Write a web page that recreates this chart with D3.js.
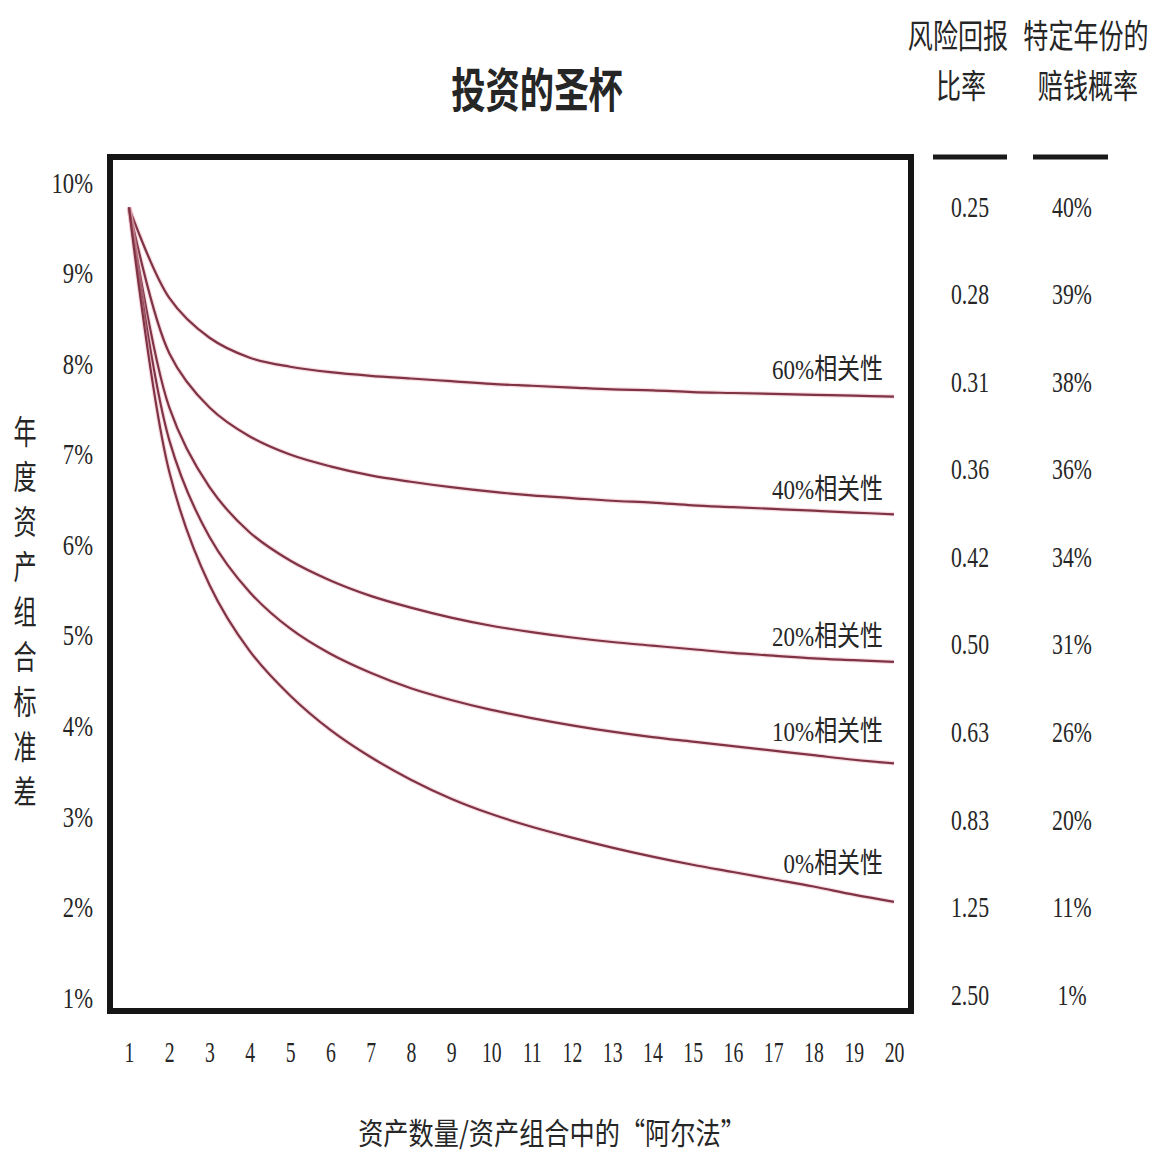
<!DOCTYPE html>
<html>
<head>
<meta charset="utf-8">
<script src="https://cdn.jsdelivr.net/npm/d3@7"></script>
<style>
  html, body { margin: 0; padding: 0; background: #fff; }
  svg { display: block; }
</style>
</head>
<body>
<svg id="chart" width="1161" height="1156"></svg>
<script>
// ---------------- data ----------------
const assetCounts = [1,2,3,4,5,6,7,8,9,10,11,12,13,14,15,16,17,18,19,20];
const yTickValues = [10,9,8,7,6,5,4,3,2,1];

const corr60 = [9.72,8.72,8.28,8.06,7.96,7.90,7.86,7.83,7.80,7.77,7.75,7.73,7.71,7.70,7.68,7.67,7.66,7.65,7.64,7.63];
const corr40 = [9.72,8.11,7.51,7.19,6.99,6.86,6.76,6.69,6.63,6.58,6.54,6.51,6.48,6.46,6.43,6.41,6.39,6.37,6.35,6.33];
const corr20 = [9.72,7.51,6.63,6.13,5.82,5.60,5.43,5.30,5.19,5.10,5.03,4.97,4.92,4.88,4.84,4.80,4.77,4.74,4.72,4.70];
const corr10 = [9.72,7.15,6.08,5.47,5.07,4.79,4.58,4.41,4.28,4.17,4.08,4.00,3.93,3.87,3.82,3.77,3.72,3.67,3.62,3.58];
const corr0  = [9.72,6.80,5.55,4.82,4.33,3.95,3.65,3.40,3.19,3.02,2.88,2.76,2.65,2.55,2.46,2.38,2.30,2.22,2.13,2.05];
const seriesLabels = ["60%相关性","40%相关性","20%相关性","10%相关性","0%相关性"];

const riskReturnRatio = ["0.25","0.28","0.31","0.36","0.42","0.50","0.63","0.83","1.25","2.50"];
const lossProbability = ["40%","39%","38%","36%","34%","31%","26%","20%","11%","1%"];

const titleText = "投资的圣杯";
const yAxisTitle = "年度资产组合标准差";
const xAxisTitle = "资产数量/资产组合中的“阿尔法”";
const colHeader1 = ["风险回报","比率"];
const colHeader2 = ["特定年份的","赔钱概率"];

// ---------------- drawing ----------------
const svg = d3.select("#chart");
const serifFont = "'Liberation Serif', 'Noto Sans CJK SC', serif";
const cjkFont = "'Noto Sans CJK SC', 'Liberation Serif', sans-serif";
const textColor = "#262626";
const lineColor = "#7f3344";

const x = d3.scaleLinear().domain([1, 20]).range([129, 894]);
const y = d3.scaleLinear().domain([1, 10]).range([997, 182]);

// horizontally squeezed text helper
function sText(g, px, py, str, opts) {
  const grp = g.append("g").attr("transform", `translate(${px},${py}) scale(${opts.sx || 1},1)`);
  return grp.append("text")
    .attr("x", 0).attr("y", 0)
    .attr("text-anchor", opts.anchor || "middle")
    .attr("dominant-baseline", "central")
    .attr("font-family", opts.font || serifFont)
    .attr("font-size", opts.size || 28)
    .attr("font-weight", opts.weight || 400)
    .attr("fill", textColor)
    .text(str);
}

// Title
sText(svg, 537, 86, titleText, {font: cjkFont, size: 47, sx: 0.73, weight: 700});

// Column headers
sText(svg, 958, 33, colHeader1[0], {font: cjkFont, size: 33, sx: 0.76});
sText(svg, 961, 83, colHeader1[1], {font: cjkFont, size: 33, sx: 0.76});
sText(svg, 1086, 33, colHeader2[0], {font: cjkFont, size: 33, sx: 0.76});
sText(svg, 1088, 83, colHeader2[1], {font: cjkFont, size: 33, sx: 0.76});

// Header rules
svg.append("line").attr("x1", 933).attr("x2", 1007).attr("y1", 157).attr("y2", 157)
  .attr("stroke", "#1a1a1a").attr("stroke-width", 5);
svg.append("line").attr("x1", 1033).attr("x2", 1108).attr("y1", 157).attr("y2", 157)
  .attr("stroke", "#1a1a1a").attr("stroke-width", 5);

// Table rows
const rowY = d3.scalePoint().domain(d3.range(riskReturnRatio.length)).range([207, 995]);
const tableG = svg.append("g");
riskReturnRatio.forEach((v, i) => sText(tableG, 970, rowY(i), v, {size: 29, sx: 0.75}));
lossProbability.forEach((v, i) => sText(tableG, 1072, rowY(i), v, {size: 29, sx: 0.75}));

// Y axis tick labels
const yAxisG = svg.append("g").attr("transform", "translate(93,0)");
yAxisG.call(d3.axisLeft(y).tickValues(yTickValues).tickSize(0).tickPadding(0).tickFormat(d => d + "%"));
yAxisG.select(".domain").remove();
yAxisG.selectAll(".tick text")
  .attr("font-family", serifFont).attr("font-size", 29).attr("fill", textColor)
  .attr("dy", "0.35em")
  .attr("transform", "scale(0.78,1)");

// X axis tick labels
const xAxisG = svg.append("g").attr("transform", "translate(0,1041)");
xAxisG.call(d3.axisBottom(x).tickValues(assetCounts).tickSize(0).tickPadding(0).tickFormat(d => d));
xAxisG.select(".domain").remove();
xAxisG.selectAll(".tick text")
  .attr("font-family", serifFont).attr("font-size", 29).attr("fill", textColor)
  .attr("dy", "0.71em")
  .attr("transform", "scale(0.68,1)");

// Axis titles
const ylab = svg.append("g").attr("transform", "translate(25,617) scale(0.7,1)");
ylab.append("text")
  .attr("x", 0).attr("y", 0)
  .attr("text-anchor", "middle")
  .style("writing-mode", "vertical-rl")
  .attr("font-family", cjkFont).attr("font-size", 33)
  .attr("letter-spacing", 12)
  .attr("fill", textColor)
  .text(yAxisTitle);

sText(svg, 552, 1131, xAxisTitle, {font: cjkFont, size: 30, sx: 0.84});

// Curves
const allSeries = [corr60, corr40, corr20, corr10, corr0];
const line = d3.line()
  .x((d, i) => x(assetCounts[i]))
  .y(d => y(d))
  .curve(d3.curveCatmullRom.alpha(0.5));

const curveG = svg.append("g");
allSeries.forEach(s => {
  curveG.append("path").datum(s)
    .attr("d", line)
    .attr("fill", "none")
    .attr("stroke", "#e8a9b6").attr("stroke-width", 4.5).attr("stroke-opacity", 0.4);
  curveG.append("path").datum(s)
    .attr("d", line)
    .attr("fill", "none")
    .attr("stroke", lineColor).attr("stroke-width", 2.2);
});

// Curve labels (right-aligned, above each curve's end)
const labelOffsets = [27, 25, 25, 32, 38];
allSeries.forEach((s, k) => {
  sText(svg, 883, y(s[s.length - 1]) - labelOffsets[k], seriesLabels[k], {anchor: "end", size: 28, sx: 0.82});
});

// Plot frame
svg.append("rect")
  .attr("x", 110).attr("y", 157)
  .attr("width", 801).attr("height", 854)
  .attr("fill", "none").attr("stroke", "#151515").attr("stroke-width", 6);
</script>
</body>
</html>
